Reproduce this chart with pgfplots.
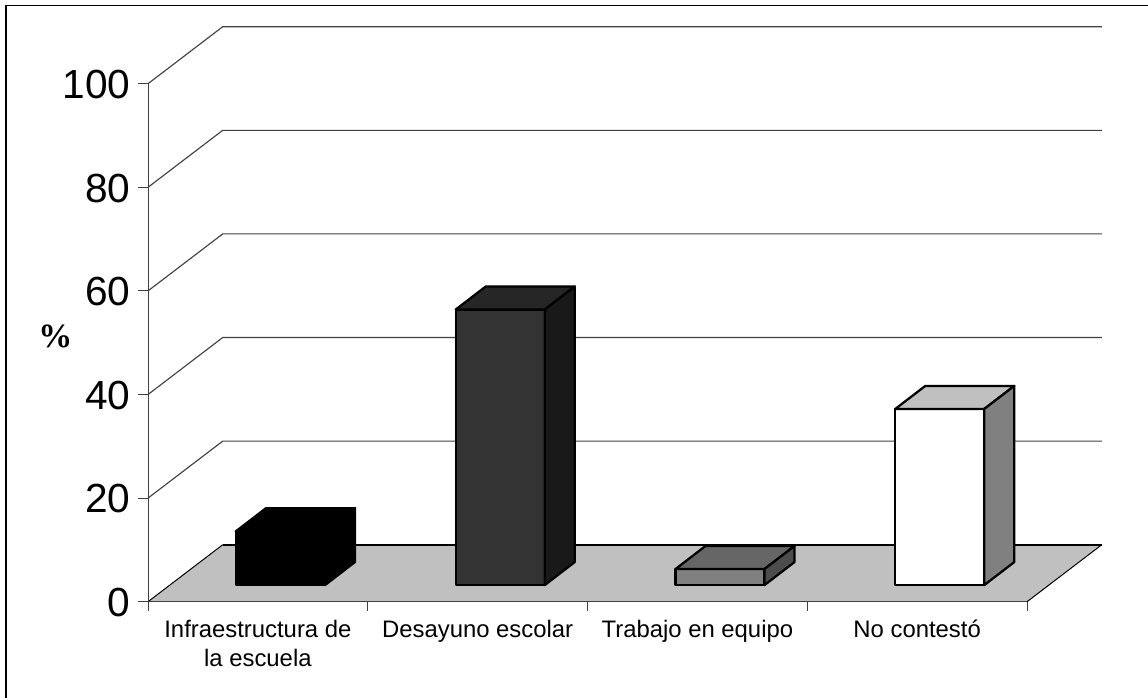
\documentclass[border=0pt]{standalone}
\usepackage{pgfplots}
\pgfplotsset{compat=1.18}
\usepackage{fontspec}
\setmainfont{Liberation Sans}
\newfontfamily\timesfont{Liberation Serif}
\definecolor{axisgray}{HTML}{404040}
\definecolor{floorgray}{HTML}{C0C0C0}
\begin{document}
\begin{tikzpicture}[x=1pt,y=1pt]
  % 1 px of the reference = 0.75 pt, page = 861 x 523.5 pt
  \path[use as bounding box] (0,0) rectangle (861,523.5);
  \draw[black,line width=1.3pt] (4.5,0) -- (4.5,519.4) -- (861,519.4);
  \begin{axis}[
      at={(111pt,72.2pt)},anchor=south west,
      scale only axis,
      width=715.3pt,height=431.25pt,
      xmin=0,xmax=4.34,ymin=0,ymax=111,
      clip=false,
      axis lines*=left,
      axis line style={draw=none},
      tick align=outside,
      ytick={0,20,40,60,80,100},
      xtick={0.5,1.5,2.5,3.5},
      minor xtick={0,1,2,3,4},
      xticklabels={{Infraestructura de\\la escuela},{Desayuno escolar},{Trabajo en equipo},{No contestó}},
      major tick length=7.5pt,
      minor tick length=6.75pt,
      major x tick style={draw=none},
      minor x tick style={draw=axisgray,line width=0.75pt},
      major y tick style={draw=axisgray,line width=0.75pt},
      /pgf/number format/assume math mode=true,
      yticklabel style={font=\fontsize{30.5}{34}\selectfont,inner sep=0pt,xshift=-5.5pt,yshift=-0.6pt},
      xticklabel style={font=\fontsize{17.9}{21.5}\selectfont,align=center,anchor=north,yshift=-2.75pt},
      every axis plot/.append style={line join=round},
    ]
    % floor
    \addplot[fill=floorgray,draw=none] coordinates {(0,0) (4,0) (4.34,11) (0.34,11) (0,0)} -- cycle;
    \addplot[black,line width=0.75pt] coordinates {(0,0) (0.34,11)};
    \addplot[black,line width=0.75pt] coordinates {(4,0) (4.34,11)};
    \addplot[black,line width=1.6pt] coordinates {(0.34,11) (4.34,11)};
    % walls
    \addplot[black!75,line width=0.85pt] coordinates {(0,20) (0.34,31) (4.34,31)};
    \addplot[black!75,line width=0.85pt] coordinates {(0,40) (0.34,51) (4.34,51)};
    \addplot[black!75,line width=0.85pt] coordinates {(0,60) (0.34,71) (4.34,71)};
    \addplot[black!75,line width=0.85pt] coordinates {(0,80) (0.34,91) (4.34,91)};
    \addplot[black!75,line width=0.85pt] coordinates {(0,100) (0.34,111) (4.34,111)};
    % axis lines
    \addplot[axisgray,line width=0.75pt] coordinates {(0,0) (0,100)};
    \addplot[axisgray,line width=0.9pt] coordinates {(0,0) (4,0)};
    % Infraestructura de la escuela, 10.4
    \addplot[fill=black,draw=black,line width=1.7pt] coordinates {(0.40,3.2) (0.805,3.2) (0.805,13.6) (0.40,13.6)} -- cycle;
    \addplot[fill=black,draw=black,line width=1.7pt] coordinates {(0.40,13.6) (0.805,13.6) (0.942,18.06) (0.537,18.06)} -- cycle;
    \addplot[fill=black,draw=black,line width=1.7pt] coordinates {(0.805,3.2) (0.942,7.66) (0.942,18.06) (0.805,13.6)} -- cycle;
    % Desayuno escolar, 53.2
    \addplot[fill=black!80,draw=black,line width=1.7pt] coordinates {(1.40,3.2) (1.805,3.2) (1.805,56.4) (1.40,56.4)} -- cycle;
    \addplot[fill=black!85,draw=black,line width=1.7pt] coordinates {(1.40,56.4) (1.805,56.4) (1.942,60.86) (1.537,60.86)} -- cycle;
    \addplot[fill=black!90,draw=black,line width=1.7pt] coordinates {(1.805,3.2) (1.942,7.66) (1.942,60.86) (1.805,56.4)} -- cycle;
    % Trabajo en equipo, 3.1
    \addplot[fill=black!50,draw=black,line width=1.7pt] coordinates {(2.40,3.2) (2.805,3.2) (2.805,6.3) (2.40,6.3)} -- cycle;
    \addplot[fill=black!60,draw=black,line width=1.7pt] coordinates {(2.40,6.3) (2.805,6.3) (2.942,10.76) (2.537,10.76)} -- cycle;
    \addplot[fill=black!70,draw=black,line width=1.7pt] coordinates {(2.805,3.2) (2.942,7.66) (2.942,10.76) (2.805,6.3)} -- cycle;
    % No contestó, 34
    \addplot[fill=white,draw=black,line width=1.7pt] coordinates {(3.40,3.2) (3.805,3.2) (3.805,37.2) (3.40,37.2)} -- cycle;
    \addplot[fill=floorgray,draw=black,line width=1.7pt] coordinates {(3.40,37.2) (3.805,37.2) (3.942,41.66) (3.537,41.66)} -- cycle;
    \addplot[fill=black!50,draw=black,line width=1.7pt] coordinates {(3.805,3.2) (3.942,7.66) (3.942,41.66) (3.805,37.2)} -- cycle;
  \end{axis}
  \node[font=\timesfont\bfseries\fontsize{25.5}{28}\selectfont] at (41.5,271) {\%};
\end{tikzpicture}
\end{document}
